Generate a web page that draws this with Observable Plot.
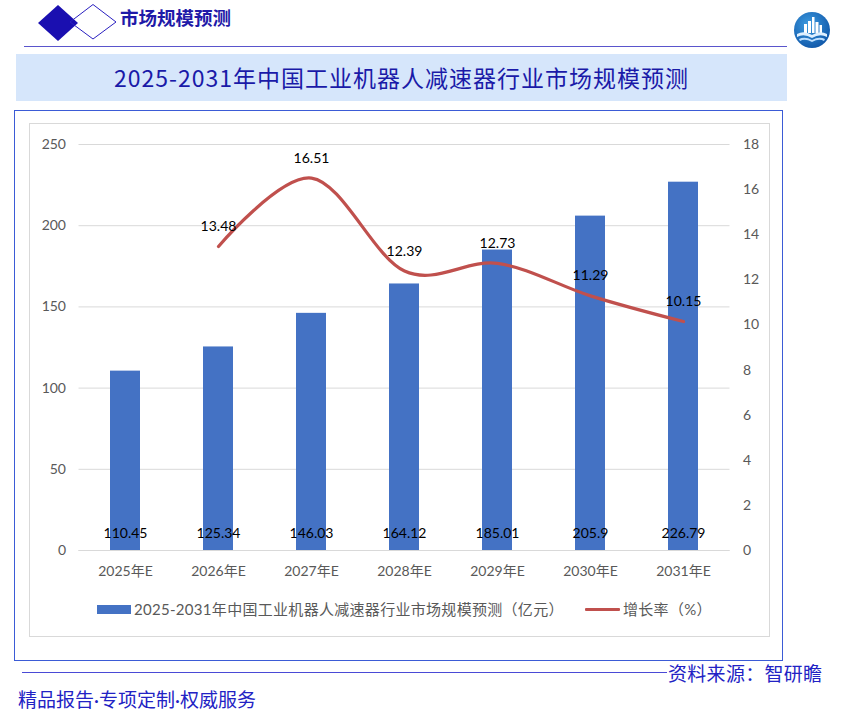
<!DOCTYPE html>
<html>
<head>
<meta charset="utf-8">
<script src="https://cdn.jsdelivr.net/npm/d3@7"></script>
<script src="https://cdn.jsdelivr.net/npm/@observablehq/plot@0.6"></script>
<style>
  html, body { margin: 0; padding: 0; background: #fff; }
  #page { position: relative; width: 847px; height: 719px; overflow: hidden; font-family: "Noto Sans CJK SC", sans-serif; }
  .abs { position: absolute; }
  #hdrText { left: 120px; top: 5px; font-size: 18.5px; font-weight: bold; color: #1f1aa8; line-height: 24px; white-space: nowrap; }
  #hdrLine { left: 24px; top: 46px; width: 763px; height: 1px; background: #5a55cc; }
  #titleBar { left: 16px; top: 54px; width: 771px; height: 47px; background: #d6e6fb; }
  #title { left: 16px; top: 54px; width: 771px; height: 47px; line-height: 47px; text-align: center; font-size: 23px; letter-spacing: 1px; font-weight: 400; color: #1a1aa8; white-space: nowrap; }
  #frame { left: 14px; top: 110px; width: 767px; height: 549px; border: 1px solid #3b5bd6; }
  #inner { left: 29px; top: 123px; width: 739px; height: 512px; border: 1px solid #d9d9d9; }
  #chart { left: 30px; top: 124px; }
  #legend { left: 30px; top: 598px; width: 739px; height: 22px; font-family: Lato, "Noto Sans CJK SC", sans-serif; font-size: 15px; letter-spacing: 0.3px; color: #595959; }
  #botLine { left: 22px; top: 672px; width: 645px; height: 1px; background: #4a4ad6; }
  #source { left: 668px; top: 660px; font-size: 19px; letter-spacing: 0.3px; color: #2222c4; line-height: 26px; white-space: nowrap; }
  #slogan { left: 18px; top: 687px; font-family: Lato, "Noto Sans CJK SC", sans-serif; font-size: 19px; color: #2222c4; line-height: 26px; white-space: nowrap; }
</style>
</head>
<body>
<div id="page">
  <svg class="abs" style="left:0;top:0" width="847" height="50">
    <polygon points="38,23 58,5 78,23 58,41" fill="#1a0fb0"/>
    <polygon points="70,22 93,4.5 116,22 93,39" fill="none" stroke="#2a20c0" stroke-width="1"/>
  </svg>
  <div id="hdrText" class="abs">市场规模预测</div>
  <div id="hdrLine" class="abs"></div>
  <svg class="abs" style="left:792px;top:10px" width="40" height="40">
    <defs>
      <radialGradient id="lg" cx="0.4" cy="0.35" r="0.7">
        <stop offset="0" stop-color="#3d9be0"/>
        <stop offset="1" stop-color="#0f56a8"/>
      </radialGradient>
    </defs>
    <circle cx="20" cy="20" r="18" fill="url(#lg)"/>
    <rect x="12" y="14" width="3" height="9" fill="#fff"/>
    <rect x="16" y="11" width="3" height="12" fill="#fff"/>
    <rect x="20" y="7" width="2.5" height="16" fill="#fff"/>
    <rect x="23.5" y="12" width="3" height="11" fill="#fff"/>
    <rect x="27.5" y="15" width="2.5" height="8" fill="#fff"/>
    <path d="M5,24 Q12,20 20,25 Q28,20 35,24 L35,27 Q28,23 20,28 Q12,23 5,27 Z" fill="#dff0ff"/>
    <path d="M7,29 Q13,26 20,30 Q27,26 33,29 L32,31 Q27,28 20,32 Q13,28 8,31 Z" fill="#bfe0ff"/>
  </svg>
  <div id="titleBar" class="abs"></div>
  <div id="title" class="abs">2025-2031年中国工业机器人减速器行业市场规模预测</div>
  <div id="frame" class="abs"></div>
  <div id="inner" class="abs"></div>
  <div id="chart" class="abs"></div>
  <div id="legend" class="abs">
    <div class="abs" style="left:67px;top:7px;width:34px;height:9px;background:#4472C4"></div>
    <div class="abs" style="left:104px;top:0;line-height:22px;white-space:nowrap">2025-2031年中国工业机器人减速器行业市场规模预测（亿元）</div>
    <div class="abs" style="left:555px;top:10px;width:35px;height:3px;background:#C0504D;border-radius:1px"></div>
    <div class="abs" style="left:593px;top:0;line-height:22px;white-space:nowrap">增长率（%）</div>
  </div>
  <div id="botLine" class="abs"></div>
  <div id="source" class="abs">资料来源：智研瞻</div>
  <div id="slogan" class="abs">精品报告·专项定制·权威服务</div>
</div>
<script>
const years = ["2025年E", "2026年E", "2027年E", "2028年E", "2029年E", "2030年E", "2031年E"];
const marketSize = [110.45, 125.34, 146.03, 164.12, 185.01, 205.9, 226.79];
const growthYears = ["2026年E", "2027年E", "2028年E", "2029年E", "2030年E", "2031年E"];
const growthRate = [13.48, 16.51, 12.39, 12.73, 11.29, 10.15];
const leftTicks = [0, 50, 100, 150, 200, 250];
const rightTicks = [0, 2, 4, 6, 8, 10, 12, 14, 16, 18];
const leftMax = 250;
const rightMax = 18;

const k = leftMax / rightMax;
const sizeTable = years.map((year, i) => ({ year, size: marketSize[i] }));
const rateTable = growthYears.map((year, i) => ({ year, rate: growthRate[i], scaled: growthRate[i] * k }));

const chart = Plot.plot({
  width: 739,
  height: 512,
  marginLeft: 48.5,
  marginRight: 39.5,
  marginTop: 20,
  marginBottom: 86,
  style: { fontFamily: "Lato, 'Noto Sans CJK SC', sans-serif", fontSize: "14px", background: "transparent", overflow: "visible" },
  x: { domain: years, paddingInner: 0.677, paddingOuter: 0.3385, axis: null },
  y: { domain: [0, leftMax], axis: null },
  marks: [
    Plot.gridY(leftTicks, { stroke: "#d9d9d9", strokeOpacity: 1, strokeWidth: 1 }),
    Plot.barY(sizeTable, { x: "year", y: "size", fill: "#4472C4" }),
    Plot.ruleY([0], { stroke: "#d9d9d9", strokeWidth: 1 }),
    Plot.text(sizeTable, { x: "year", y: 0, text: d => String(d.size), dy: -17, fill: "#000", fontSize: 14 }),
    Plot.line(rateTable, { x: "year", y: "scaled", stroke: "#C0504D", strokeWidth: 3.2, curve: "cardinal", tension: 0 }),
    Plot.text(rateTable, { x: "year", y: "scaled", text: d => d.rate.toFixed(2), dy: -20, fill: "#000", fontSize: 14 }),
    Plot.axisY(leftTicks, { anchor: "left", tickSize: 0, tickPadding: 13, fill: "#595959", label: null }),
    Plot.axisY(rightTicks.map(v => v * k), { anchor: "right", tickSize: 0, tickPadding: 13, fill: "#595959", label: null, tickFormat: d => String(Math.round(d / k)) }),
    Plot.axisX({ tickSize: 0, tickPadding: 16, fill: "#595959", label: null })
  ]
});
document.getElementById("chart").appendChild(chart);
</script>
</body>
</html>
